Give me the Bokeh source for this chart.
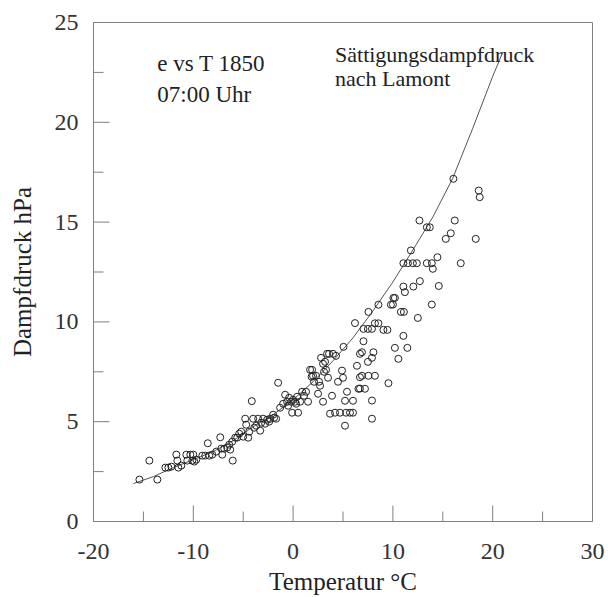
from bokeh.plotting import figure
from bokeh.models import Range1d, FixedTicker, Label
from bokeh.embed import file_html
from bokeh.resources import INLINE

# Observed 07:00 values (temperature °C, vapour pressure hPa)
temp = [-15.4, -14.4, -13.6, -12.8, -12.5, -12.2, -11.7, -11.6, -11.5, -11.2,
        -10.7, -10.3, -10.0, -10.6, -10.1, -9.9, -9.7, -9.1, -8.8, -8.55,
        -8.4, -8.1, -7.7, -7.3, -7.1, -7.2, -6.9, -6.6, -6.4, -6.3,
        -6.05, -6.1, -5.8, -5.6, -5.4, -5.2, -5.0, -4.8, -4.7, -4.5,
        -4.4, -4.14, -4.0, -3.9, -3.7, -3.5, -3.3, -3.2, -3.0, -2.8,
        -2.6, -2.3, -2.0, -1.7, -1.5, -1.3, -1.0, -0.8, -0.6, -0.4,
        -0.2, 0.0, -0.1, 0.2, 0.4, 0.5, 0.7, 0.9, 1.1, 1.3,
        1.5, 1.7, 1.85, 2.1, 2.3, 2.5, 2.6, 2.8, 3.0, 3.0,
        3.1, 3.3, 3.5, 3.7, 3.9, 4.0, 4.3, 4.2, 4.5, 4.7,
        4.9, 5.0, 5.05, 5.2, 5.2, 5.3, 5.4, 5.7, 6.0, 6.0,
        6.2, 6.4, 6.55, 6.7, 6.7, 6.7, 6.9, 6.9, 7.05, 7.05,
        7.2, 7.5, 7.5, 7.55, 7.55, 7.9, 7.9, 7.9, 7.9, 8.05,
        8.2, 8.2, 8.55, 8.55, 9.05, 9.45, 9.55, 9.8, 10.0, 10.05,
        10.2, 10.2, 10.55, 10.8, 11.05, 11.1, 11.05, 11.05, 11.2, 11.45,
        11.5, 11.8, 12.0, 12.05, 12.4, 12.5, 12.66, 12.7, 13.4, 13.7,
        13.4, 13.9, 13.9, 14.0, 14.46, 14.6, 15.3, 15.8, 16.06, 16.2,
        16.8, 18.3, 18.6, 18.7, -0.5, 1.9, 2.0, 2.7, 3.2, 3.4,
        3.6, -2.4, -1.9, 0.3]
vapour = [2.1, 3.05, 2.1, 2.7, 2.7, 2.75, 3.35, 3.05, 2.7, 2.8,
          3.35, 3.35, 3.35, 3.05, 3.05, 3.0, 3.1, 3.3, 3.3, 3.92,
          3.3, 3.35, 3.5, 4.22, 3.35, 3.65, 3.65, 3.7, 3.85, 3.6,
          3.05, 4.0, 4.2, 4.2, 4.4, 4.5, 4.25, 5.15, 4.85, 4.2,
          4.5, 6.03, 5.15, 4.7, 4.8, 5.15, 4.55, 4.95, 5.15, 4.9,
          5.1, 5.15, 5.35, 5.15, 6.95, 5.7, 5.9, 6.35, 6.0, 6.2,
          6.0, 6.1, 5.45, 6.0, 6.25, 5.45, 6.0, 6.5, 6.3, 6.5,
          6.0, 7.6, 7.25, 7.0, 7.3, 6.4, 7.0, 8.2, 7.9, 6.0,
          7.5, 7.6, 7.2, 5.4, 6.3, 8.4, 8.3, 5.45, 7.0, 5.45,
          7.56, 7.2, 8.75, 6.05, 4.8, 5.45, 6.5, 5.45, 6.05, 5.45,
          9.94, 7.8, 6.65, 8.4, 7.23, 6.66, 7.3, 8.48, 9.65, 9.03,
          6.65, 9.65, 8.0, 10.5, 7.3, 9.65, 8.2, 6.06, 5.15, 8.48,
          9.93, 7.3, 9.93, 10.86, 9.6, 9.6, 6.93, 10.86, 10.87, 11.2,
          11.2, 8.7, 8.15, 10.5, 9.3, 10.5, 12.94, 11.77, 11.49, 8.7,
          12.94, 13.58, 12.94, 11.77, 12.94, 10.2, 15.08, 12.04, 14.74, 14.74,
          12.94, 12.94, 10.87, 12.66, 13.24, 11.8, 14.16, 14.44, 17.17, 15.08,
          12.94, 14.16, 16.58, 16.25, 5.8, 7.6, 7.3, 6.8, 8.0, 8.4,
          8.4, 5.0, 5.2, 5.9]

# Saturation vapour pressure after Lamont
curve_t = [-16, -14, -12, -10, -8, -6, -4, -2, 0, 2, 4, 6, 8, 10, 12, 14, 16, 18, 20, 21]
curve_e = [1.9, 2.25, 2.7, 3.1, 3.5, 4.05, 4.75, 5.35, 6.1, 7.0, 8.05, 9.2, 10.55,
           12.0, 13.6, 15.25, 17.2, 19.7, 22.3, 23.5]

x_major = [-20, -10, 0, 10, 20, 30]
x_minor = [-15, -5, 5, 15, 25]
y_major = [0, 5, 10, 15, 20, 25]
y_minor = [2.5, 7.5, 12.5, 17.5, 22.5]

SERIF = "Liberation Serif"
GRAY = "#808080"
X0, Y0 = -20, 0

p = figure(width=608, height=597, output_backend="svg", toolbar_location=None,
           x_range=Range1d(-20, 30), y_range=Range1d(0, 25),
           min_border_left=93, min_border_right=16, min_border_top=22,
           min_border_bottom=76)
p.background_fill_color = "white"
p.border_fill_color = "white"
p.outline_line_color = GRAY
p.outline_line_width = 1
p.xgrid.visible = False
p.ygrid.visible = False

# inward tick marks drawn from the tick lists
p.ray(x=x_major, y=[Y0] * len(x_major), length=16, length_units="screen",
      angle=90, angle_units="deg", line_color=GRAY, line_width=1)
p.ray(x=x_minor, y=[Y0] * len(x_minor), length=10, length_units="screen",
      angle=90, angle_units="deg", line_color=GRAY, line_width=1)
p.ray(x=[X0] * len(y_major), y=y_major, length=16, length_units="screen",
      angle=0, angle_units="deg", line_color=GRAY, line_width=1)
p.ray(x=[X0] * len(y_minor), y=y_minor, length=10, length_units="screen",
      angle=0, angle_units="deg", line_color=GRAY, line_width=1)

p.line(curve_t, curve_e, line_color="#555555", line_width=1)
p.scatter(temp, vapour, marker="circle", size=7, fill_color=None,
          line_color="#222222", line_width=1)

for ax, maj, mino in ((p.xaxis[0], x_major, x_minor), (p.yaxis[0], y_major, y_minor)):
    ax.ticker = FixedTicker(ticks=maj, minor_ticks=mino)
    ax.major_label_overrides = {t: str(t) for t in maj}
    ax.axis_line_color = GRAY
    ax.major_tick_line_color = None
    ax.minor_tick_line_color = None
    ax.major_tick_in = 0
    ax.major_tick_out = 0
    ax.minor_tick_in = 0
    ax.minor_tick_out = 0
    ax.major_label_text_font = SERIF
    ax.major_label_text_font_size = "24px"
    ax.major_label_text_color = "#333333"
    ax.axis_label_text_font = SERIF
    ax.axis_label_text_font_size = "25px"
    ax.axis_label_text_font_style = "normal"
    ax.axis_label_text_color = "#222222"

p.xaxis.axis_label = "Temperatur °C"
p.yaxis.axis_label = "Dampfdruck hPa"
p.xaxis.major_label_standoff = 22
p.yaxis.major_label_standoff = 15
p.xaxis.axis_label_standoff = 6
p.yaxis.axis_label_standoff = 16

for txt, x, y, fs in (("e vs T 1850", -13.6, 22.95, "23px"),
                      ("07:00 Uhr", -13.6, 21.4, "23px"),
                      ("Sättigungsdampfdruck", 4.2, 23.4, "22px"),
                      ("nach Lamont", 4.2, 22.2, "22px")):
    p.add_layout(Label(x=x, y=y, text=txt, text_font=SERIF, text_font_size=fs,
                       text_color="#222222", text_baseline="alphabetic",
                       text_align="left"))

open("out.html", "w").write(file_html(p, INLINE))
